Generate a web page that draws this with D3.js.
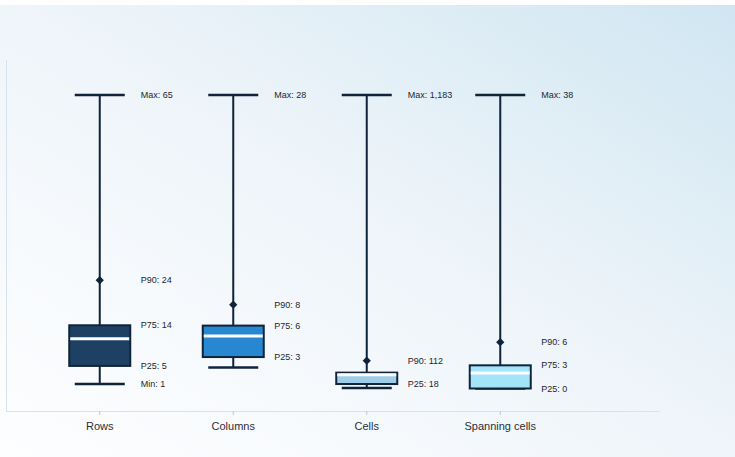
<!DOCTYPE html>
<html><head><meta charset="utf-8">
<script src="https://cdn.jsdelivr.net/npm/d3@7"></script>
<style>body{margin:0;padding:0;background:#fff}svg{display:block}</style>
</head><body>
<svg id="chart" width="735" height="457"></svg>
<script>
const categories = ["Rows", "Columns", "Cells", "Spanning cells"];
const minVals = [1, 2, 2, 0];
const p25Vals = [5, 3, 18, 0];
const medianVals = [11, 5, 55, 2];
const p75Vals = [14, 6, 64, 3];
const p90Vals = [24, 8, 112, 6];
const maxVals = [65, 28, 1183, 38];
const fillColors = ["#1e4163", "#2787d0", "#9ecde9", "#a3e4f8"];

const svg = d3.select("#chart");
const W = 735, H = 457;
const defs = svg.append("defs");
const grad = defs.append("linearGradient").attr("id", "bg")
  .attr("x1", "100%").attr("y1", "0%").attr("x2", "0%").attr("y2", "100%");
grad.append("stop").attr("offset", "0%").attr("stop-color", "#d0e6f2");
grad.append("stop").attr("offset", "45%").attr("stop-color", "#edf4f9");
grad.append("stop").attr("offset", "75%").attr("stop-color", "#f7fafd");
grad.append("stop").attr("offset", "100%").attr("stop-color", "#fdfeff");
svg.append("rect").attr("x", 0).attr("y", 5).attr("width", W).attr("height", H - 5).attr("fill", "url(#bg)");

const x = d3.scaleBand().domain(categories).range([33, 567]).padding(0);
const y = d3.scaleLinear().domain([0, 1]).range([388.5, 95]);
const ink = "#0f2339";
const boxW = 61, capW = 50;

// axis lines
svg.append("line").attr("x1", 6.5).attr("x2", 6.5).attr("y1", 60).attr("y2", 411)
  .attr("stroke", "#d6e2ec").attr("stroke-width", 1);
const xAxis = svg.append("g").attr("transform", "translate(0,411)")
  .call(d3.axisBottom(x).tickSize(4).tickSizeOuter(0));
xAxis.select(".domain").remove();
xAxis.insert("line", ":first-child").attr("x1", 6).attr("x2", 660).attr("y1", 0.5).attr("y2", 0.5)
  .attr("stroke", "#d6e2ec");
xAxis.selectAll(".tick line").attr("stroke", "#b9c6d2");
xAxis.selectAll(".tick text").attr("dy", "1.05em")
  .attr("font-family", "Liberation Sans, Arial, sans-serif").attr("font-size", 11).attr("fill", "#2b2f36");

const data = categories.map((c, i) => ({
  c, min: minVals[i], p25: p25Vals[i], med: medianVals[i], p75: p75Vals[i],
  p90: p90Vals[i], max: maxVals[i], fill: fillColors[i]
}));

const fmt = d3.format(",");
data.forEach(d => {
  const cx = x(d.c) + x.bandwidth() / 2;
  const n = v => y(v / d.max);
  const g = svg.append("g");
  // whisker
  g.append("line").attr("x1", cx).attr("x2", cx).attr("y1", n(d.min)).attr("y2", n(d.max))
    .attr("stroke", ink).attr("stroke-width", 2);
  g.append("line").attr("x1", cx - capW / 2).attr("x2", cx + capW / 2).attr("y1", n(d.max)).attr("y2", n(d.max))
    .attr("stroke", ink).attr("stroke-width", 2.5);
  g.append("line").attr("x1", cx - capW / 2).attr("x2", cx + capW / 2).attr("y1", n(d.min)).attr("y2", n(d.min))
    .attr("stroke", ink).attr("stroke-width", 2.5);
  // box
  g.append("rect").attr("x", cx - boxW / 2).attr("width", boxW)
    .attr("y", n(d.p75)).attr("height", n(d.p25) - n(d.p75))
    .attr("fill", d.fill).attr("stroke", ink).attr("stroke-width", 2);
  // median
  g.append("line").attr("x1", cx - boxW / 2 + 1).attr("x2", cx + boxW / 2 - 1)
    .attr("y1", n(d.med)).attr("y2", n(d.med)).attr("stroke", "#ffffff").attr("stroke-width", 3);
  // p90 marker
  g.append("path").attr("d", d3.symbol(d3.symbolSquare, 34)())
    .attr("transform", `translate(${cx},${n(d.p90)}) rotate(45)`).attr("fill", ink);
  // labels
  const labs = [["Max", d.max], ["P90", d.p90], ["P75", d.p75], ["P25", d.p25], ["Min", d.min]];
  let last = -Infinity;
  labs.forEach(([k, v]) => {
    const yy = n(v);
    if (yy - last < 13) return;
    last = yy;
    g.append("text").attr("x", cx + 41).attr("y", yy).attr("dy", "0.35em")
      .attr("font-family", "Liberation Sans, Arial, sans-serif").attr("font-size", 9)
      .attr("fill", "#23272e").text(`${k}: ${fmt(v)}`);
  });
});
</script>
</body></html>
